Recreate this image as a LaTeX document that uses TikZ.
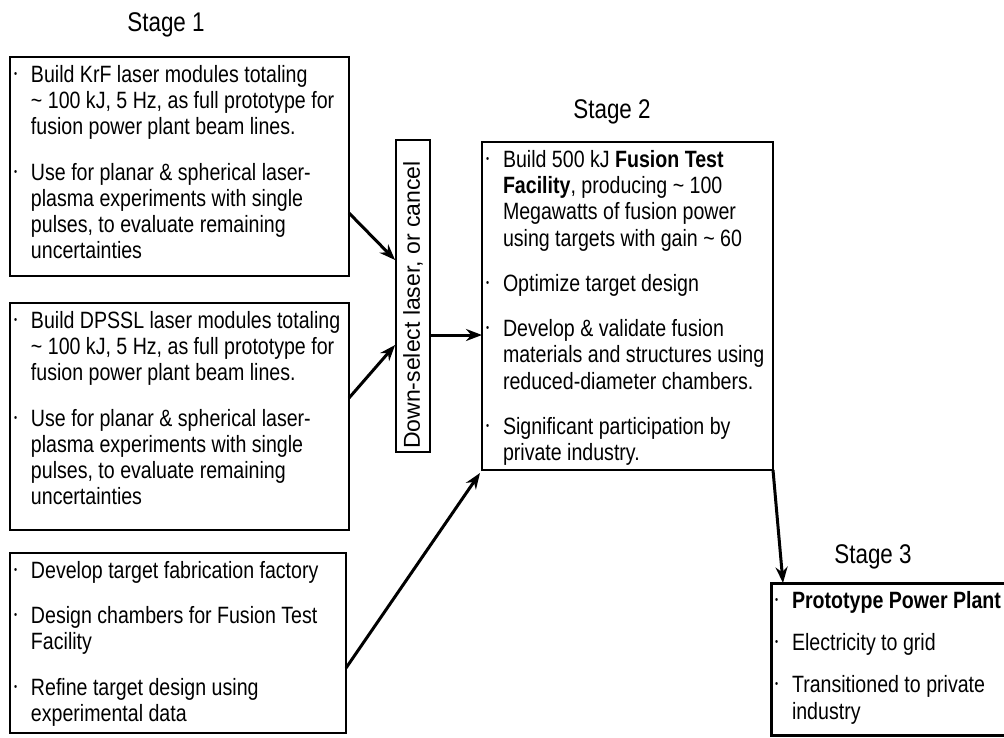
\documentclass[tikz,border=0pt]{standalone}
\usepackage{fontspec}
\usepackage{graphicx}
\setmainfont{Liberation Sans}[FakeStretch=0.83]
\newfontfamily\uprightsans{Liberation Sans}
\usetikzlibrary{positioning,arrows.meta}

\newcommand{\bodyfont}{\fontsize{23.6}{26.3}\selectfont}
\newcommand{\bitem}{\par\hangindent=17pt\hangafter=1\noindent
  \makebox[17pt][l]{\raisebox{0.2em}{\scalebox{0.45}{\textbullet}}}}
\newcommand{\boxbody}[3]{\parbox[c][#2][t]{#1}{\bodyfont\raggedright\setlength{\parskip}{19pt}#3}}

\begin{document}
\begin{tikzpicture}[x=1pt,y=-1pt,
  stagebox/.style={draw, line width=1.8pt, anchor=north west, inner xsep=4pt, inner ysep=8pt, outer sep=0pt},
  flow/.style={-{Stealth[length=16pt,width=12pt]}, line width=3pt},
  stagelabel/.style={font=\fontsize{27}{30}\selectfont}]
  \clip (0,0) rectangle (1004,737);

  % stage titles
  \node[stagelabel] (stageone) at (166,25) {Stage 1};
  \node[stagelabel] (stagetwo) at (612,112) {Stage 2};
  \node[stagelabel] (stagethree) at (873,557) {Stage 3};

  % stage 1
  \node[stagebox] (krf) at (10,57) {\boxbody{331pt}{203pt}{%
    \bitem Build KrF laser modules totaling\newline \textasciitilde\ 100 kJ, 5 Hz, as full prototype for\newline fusion power plant beam lines.
    \bitem Use for planar \& spherical laser-\newline plasma experiments with single\newline pulses, to evaluate remaining\newline uncertainties}};
  \node[stagebox] (dpssl) at (10,303) {\boxbody{331pt}{211pt}{%
    \bitem Build DPSSL laser modules totaling\newline \textasciitilde\ 100 kJ, 5 Hz, as full prototype for\newline fusion power plant beam lines.
    \bitem Use for planar \& spherical laser-\newline plasma experiments with single\newline pulses, to evaluate remaining\newline uncertainties}};
  \node[stagebox] (targets) at (10,553) {\boxbody{328pt}{164pt}{%
    \bitem Develop target fabrication factory
    \bitem Design chambers for Fusion Test\newline Facility
    \bitem Refine target design using\newline experimental data}};

  \node[draw, line width=1.8pt, minimum width=34pt, minimum height=312pt, inner sep=0pt] (down) at (413,296)
    {\rotatebox{90}{\uprightsans\fontsize{23}{25}\selectfont Down-select laser, or cancel\hspace*{18pt}}};

  % stage 2
  \node[stagebox] (fts) at (482,142) {\boxbody{283pt}{312pt}{%
    \bitem Build 500 kJ \textbf{Fusion Test}\newline \textbf{Facility}, producing \textasciitilde\ 100\newline Megawatts of fusion power\newline using targets with gain \textasciitilde\ 60
    \bitem Optimize target design
    \bitem Develop \& validate fusion\newline materials and structures using\newline reduced-diameter chambers.
    \bitem Significant participation by\newline private industry.}};

  % stage 3
  \node[stagebox, line width=3pt] (plant) at (771,583) {\boxbody{233pt}{136pt}{\setlength{\parskip}{16pt}%
    \bitem \textbf{Prototype Power Plant}
    \bitem Electricity to grid
    \bitem Transitioned to private\newline industry}};

  \draw[flow] ([yshift=-46.5pt]krf.east) -- ([yshift=36pt]down.west);
  \draw[flow] ([yshift=18.5pt]dpssl.east) -- ([yshift=-49pt]down.west);
  \draw[flow] ([yshift=-39pt]down.east) -- ([yshift=-29pt]fts.west);
  \draw[flow] ([yshift=-25pt]targets.east) -- ([shift={(-2pt,-3pt)}]fts.south west);
  \draw[flow] (fts.south east) -- ([xshift=12pt]plant.north west);
\end{tikzpicture}
\end{document}
